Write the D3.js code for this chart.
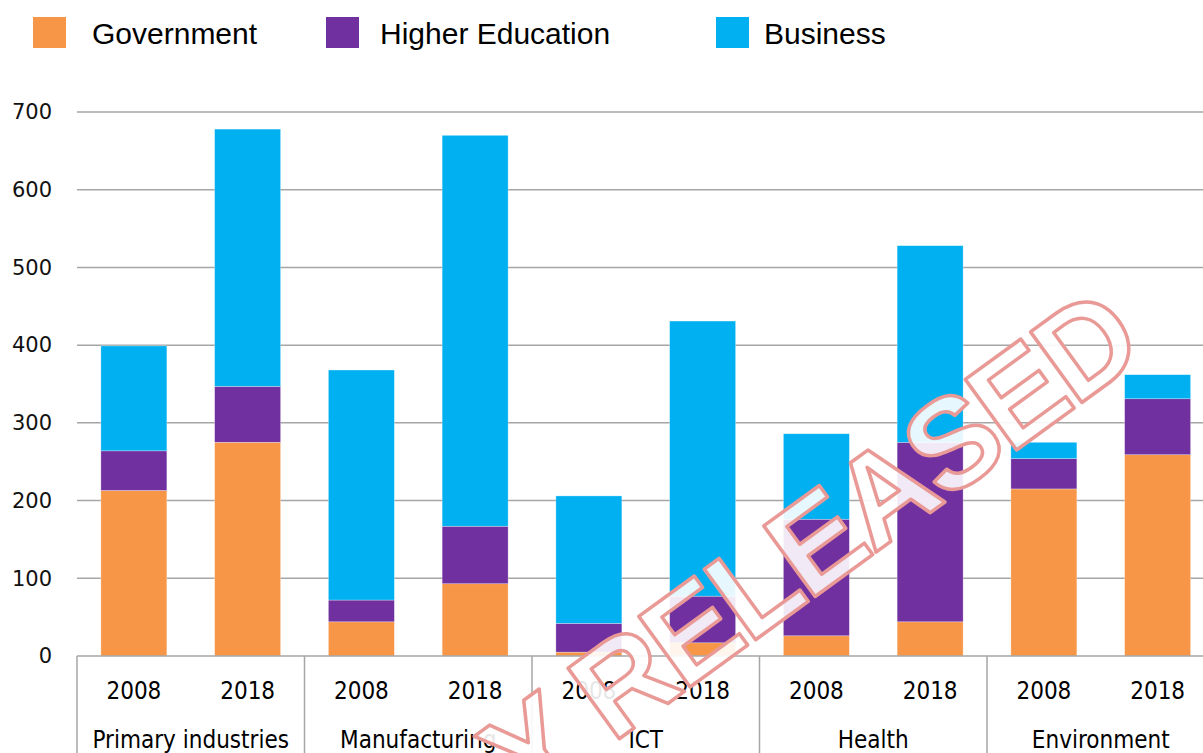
<!DOCTYPE html>
<html>
<head>
<meta charset="utf-8">
<script src="https://cdn.jsdelivr.net/npm/d3@7"></script>
<style>
  body { margin: 0; background: #fff; }
  svg { display: block; }
</style>
</head>
<body>
<svg id="chart" width="1203" height="753"></svg>
<script>
// categories and years
const categories = ["Primary industries", "Manufacturing", "ICT", "Health", "Environment"];
const years = ["2008", "2018"];

// series values, ordered category by category, 2008 then 2018
const government = [213, 275, 44, 93, 5, 17, 26, 44, 215, 259];
const higherEducation = [51, 72, 28, 74, 37, 60, 150, 231, 39, 72];
const business = [135, 331, 296, 503, 164, 354, 110, 253, 21, 31];

const seriesNames = ["Government", "Higher Education", "Business"];
const seriesColors = ["#F79646", "#7030A0", "#00B0F0"];
const yTicks = [0, 100, 200, 300, 400, 500, 600, 700];

const svg = d3.select("#chart");
const W = 1203, H = 753;
const plotLeft = 77, plotRight = 1214.5, plotTop = 112, plotBottom = 656;

const y = d3.scaleLinear().domain([0, 700]).range([plotBottom, plotTop]);
const x0 = d3.scaleBand().domain(categories).range([plotLeft, plotRight]).padding(0);
const x1 = d3.scaleBand().domain(years).range([0, x0.bandwidth()])
	.paddingInner(0.42).paddingOuter(0.21);

// build rows for stacking
let rows = [];
categories.forEach((c, ci) => {
	years.forEach((yr, yi) => {
		let i = ci * 2 + yi;
		rows.push({
			cat: c, year: yr,
			"Government": government[i],
			"Higher Education": higherEducation[i],
			"Business": business[i]
		});
	});
});
const stacked = d3.stack().keys(seriesNames)(rows);

// gridlines
svg.append("g")
	.selectAll("line")
	.data(yTicks.filter(t => t > 0))
	.enter().append("line")
	.attr("x1", plotLeft).attr("x2", W)
	.attr("y1", d => y(d)).attr("y2", d => y(d))
	.attr("stroke", "#A6A6A6").attr("stroke-width", 1.5);

// y labels
svg.append("g")
	.selectAll("text")
	.data(yTicks)
	.enter().append("text")
	.attr("x", 52).attr("y", d => y(d))
	.attr("dy", "0.35em")
	.attr("text-anchor", "end")
	.attr("font-family", "'DejaVu Sans', sans-serif")
	.attr("font-size", 21)
	.attr("fill", "#111")
	.text(d => d);

// bars
svg.append("g")
	.selectAll("g")
	.data(stacked)
	.enter().append("g")
	.attr("fill", (d, i) => seriesColors[i])
	.selectAll("rect")
	.data(d => d)
	.enter().append("rect")
	.attr("x", d => x0(d.data.cat) + x1(d.data.year))
	.attr("width", x1.bandwidth())
	.attr("y", d => y(d[1]))
	.attr("height", d => y(d[0]) - y(d[1]))
	.attr("stroke", "#fff")
	.attr("stroke-opacity", 0.5)
	.attr("stroke-width", 0.6);

// x axis line and category separators
svg.append("line")
	.attr("x1", plotLeft).attr("x2", W)
	.attr("y1", plotBottom).attr("y2", plotBottom)
	.attr("stroke", "#A6A6A6").attr("stroke-width", 1.5);

let seps = categories.map(c => x0(c)).concat([plotRight]);
svg.append("g")
	.selectAll("line")
	.data(seps)
	.enter().append("line")
	.attr("x1", d => d).attr("x2", d => d)
	.attr("y1", plotBottom).attr("y2", H)
	.attr("stroke", "#A6A6A6").attr("stroke-width", 1.5);

const labelFont = "'Liberation Sans Narrow', 'DejaVu Sans Condensed', 'Open Sans', sans-serif";

// year labels
svg.append("g")
	.selectAll("text")
	.data(rows)
	.enter().append("text")
	.attr("x", d => x0(d.cat) + x1(d.year) + x1.bandwidth() / 2)
	.attr("y", 691)
	.attr("dy", "0.35em")
	.attr("text-anchor", "middle")
	.attr("font-family", labelFont)
	.attr("font-size", 24)
	.attr("fill", "#000")
	.text(d => d.year);

// category labels (bottom row sits at the frame edge, as in the original)
svg.append("g")
	.selectAll("text")
	.data(categories)
	.enter().append("text")
	.attr("x", d => x0(d) + x0.bandwidth() / 2)
	.attr("y", 740)
	.attr("dy", "0.35em")
	.attr("text-anchor", "middle")
	.attr("font-family", labelFont)
	.attr("font-size", 24)
	.attr("fill", "#000")
	.text(d => d);

// legend
const legendX = [33, 326, 716];
let lg = svg.append("g")
	.selectAll("g")
	.data(seriesNames)
	.enter().append("g")
	.attr("transform", (d, i) => `translate(${legendX[i]},17)`);
lg.append("rect")
	.attr("width", 33).attr("height", 31)
	.attr("fill", (d, i) => seriesColors[i]);
lg.append("text")
	.attr("x", (d, i) => [59, 54, 48][i]).attr("y", 16)
	.attr("dy", "0.35em")
	.attr("font-family", "'Liberation Sans', Arial, sans-serif")
	.attr("font-size", 30)
	.attr("fill", "#000")
	.text(d => d);

// watermark
svg.append("text")
	.attr("transform", "translate(1146,356) rotate(-36)")
	.attr("text-anchor", "end")
	.attr("font-family", "'Liberation Sans', Arial, sans-serif")
	.attr("font-weight", "bold")
	.attr("font-size", 127)
	.attr("letter-spacing", -4)
	.attr("fill", "#fff")
	.attr("fill-opacity", 0.9)
	.attr("stroke", "#E99A96")
	.attr("stroke-width", 3.5)
	.attr("stroke-linejoin", "round")
	.text("PROACTIVELY RELEASED");
</script>
</body>
</html>
